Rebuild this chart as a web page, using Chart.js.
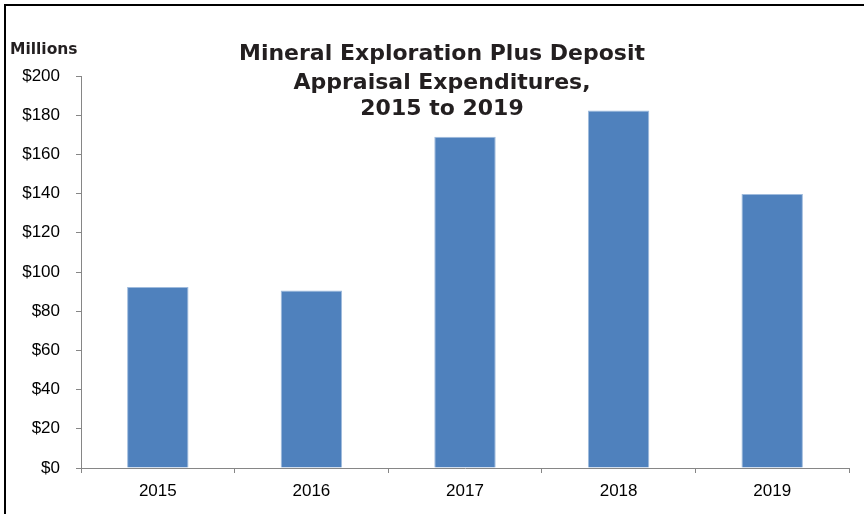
<!DOCTYPE html>
<html>
<head>
<meta charset="utf-8">
<script src="https://cdn.jsdelivr.net/npm/chart.js@4"></script>
<style>
html,body{margin:0;padding:0;background:#fff;}
#wrap{position:absolute;left:0;top:0;width:864px;height:514px;}
</style>
</head>
<body>
<div id="wrap"><canvas id="c" width="864" height="514"></canvas></div>
<script>
const categories = ["2015", "2016", "2017", "2018", "2019"];
const expenditures = [92.3, 90.5, 169, 182.4, 139.8];
const titleLines = ["Mineral Exploration Plus Deposit", "Appraisal Expenditures,", "2015 to 2019"];
const unitLabel = "Millions";

const decor = {
  id: 'decor',
  beforeDraw(chart) {
    const ctx = chart.ctx;
    ctx.save();
    ctx.fillStyle = '#fff';
    ctx.fillRect(0, 0, chart.width, chart.height);
    ctx.strokeStyle = '#000';
    ctx.lineWidth = 2;
    ctx.beginPath();
    ctx.moveTo(5, chart.height);
    ctx.lineTo(5, 5);
    ctx.lineTo(chart.width, 5);
    ctx.stroke();
    ctx.restore();
  },
  afterDraw(chart) {
    const ctx = chart.ctx;
    ctx.save();
    ctx.fillStyle = '#231f20';
    ctx.textAlign = 'center';
    ctx.textBaseline = 'alphabetic';
    ctx.font = 'bold 22px "DejaVu Sans"';
    const ys = [60, 89, 115];
    titleLines.forEach((t, i) => ctx.fillText(t, 442, ys[i]));
    ctx.textAlign = 'left';
    ctx.font = 'bold 15.5px "DejaVu Sans"';
    ctx.fillText(unitLabel, 10, 54);
    ctx.restore();
  }
};

new Chart(document.getElementById('c'), {
  type: 'bar',
  data: {
    labels: categories,
    datasets: [{
      data: expenditures,
      backgroundColor: '#4F81BD',
      borderColor: '#9FBBDD',
      borderWidth: 1,
      barPercentage: 0.4,
      categoryPercentage: 1.0
    }]
  },
  options: {
    responsive: false,
    animation: false,
    devicePixelRatio: 1,
    layout: { padding: { left: 0, right: 15, top: 76, bottom: 0 } },
    plugins: { legend: { display: false }, title: { display: false }, tooltip: { enabled: false } },
    scales: {
      x: {
        grid: { display: true, drawOnChartArea: false, offset: true, tickLength: 5, color: '#868686' },
        border: { color: '#868686', width: 1 },
        ticks: { color: '#000', font: { family: '"Liberation Sans", Arial', size: 17 }, padding: 8 },
        afterFit(s) { s.height = 46; }
      },
      y: {
        min: 0, max: 200,
        grid: { display: true, drawOnChartArea: false, tickLength: 5, color: '#868686' },
        border: { color: '#868686', width: 1 },
        ticks: { stepSize: 20, color: '#000', font: { family: '"Liberation Sans", Arial', size: 17 }, padding: 16,
          callback: v => '$' + v },
        afterFit(s) { s.width = 81; }
      }
    }
  },
  plugins: [decor]
});
</script>
</body>
</html>
